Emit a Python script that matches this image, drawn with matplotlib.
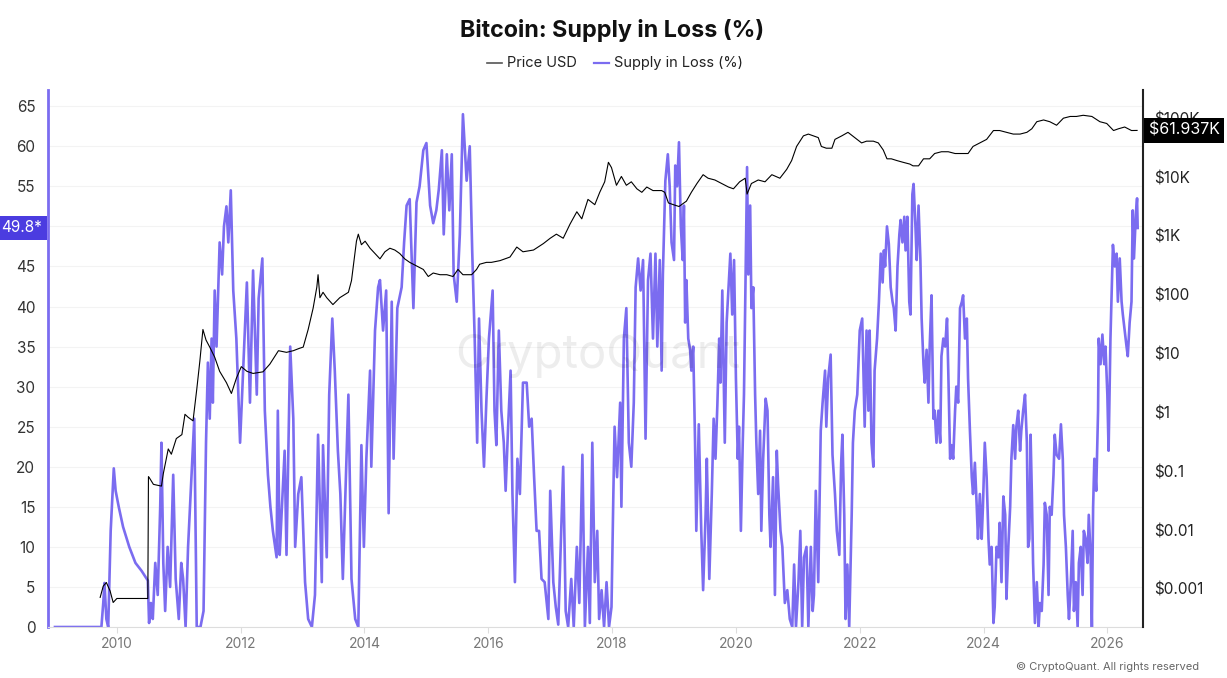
import matplotlib
matplotlib.use("Agg")
import matplotlib.pyplot as plt
from matplotlib.ticker import FixedLocator, NullLocator

plt.rcParams['font.family'] = ['Inter', 'DejaVu Sans']

# --- data (decimal years) ---
supply_year = [
    2009.0, 2009.75, 2009.78, 2009.8, 2009.83, 2009.86, 2009.9, 2009.95, 2009.98, 2010.03,
    2010.1, 2010.2, 2010.3, 2010.4, 2010.5, 2010.52, 2010.55, 2010.58, 2010.62, 2010.66,
    2010.7, 2010.72, 2010.75, 2010.78, 2010.82, 2010.86, 2010.91, 2010.95, 2011.0, 2011.04,
    2011.07, 2011.11, 2011.15, 2011.2, 2011.25, 2011.29, 2011.35, 2011.4, 2011.44, 2011.47,
    2011.5, 2011.53, 2011.55, 2011.58, 2011.61, 2011.66, 2011.7, 2011.73, 2011.77, 2011.8,
    2011.84, 2011.88, 2011.93, 2011.99, 2012.04, 2012.1, 2012.15, 2012.2, 2012.26, 2012.29,
    2012.35, 2012.39, 2012.44, 2012.48, 2012.52, 2012.58, 2012.6, 2012.63, 2012.66, 2012.71,
    2012.74, 2012.8, 2012.85, 2012.88, 2012.93, 2012.98, 2013.04, 2013.09, 2013.15, 2013.2,
    2013.25, 2013.31, 2013.33, 2013.39, 2013.43, 2013.48, 2013.52, 2013.57, 2013.61, 2013.65,
    2013.7, 2013.74, 2013.79, 2013.85, 2013.9, 2013.95, 2013.99, 2014.03, 2014.09, 2014.11,
    2014.17, 2014.22, 2014.25, 2014.3, 2014.35, 2014.39, 2014.44, 2014.47, 2014.53, 2014.6,
    2014.64, 2014.68, 2014.73, 2014.79, 2014.84, 2014.89, 2014.95, 2015.0, 2015.06, 2015.11,
    2015.16, 2015.2, 2015.25, 2015.28, 2015.33, 2015.37, 2015.41, 2015.44, 2015.49, 2015.54,
    2015.59, 2015.65, 2015.7, 2015.74, 2015.78, 2015.82, 2015.85, 2015.89, 2015.93, 2015.97,
    2016.01, 2016.07, 2016.1, 2016.13, 2016.17, 2016.21, 2016.25, 2016.28, 2016.32, 2016.36,
    2016.39, 2016.43, 2016.47, 2016.51, 2016.56, 2016.62, 2016.66, 2016.7, 2016.74, 2016.78,
    2016.82, 2016.86, 2016.91, 2016.97, 2017.0, 2017.05, 2017.09, 2017.13, 2017.17, 2017.21,
    2017.25, 2017.29, 2017.34, 2017.38, 2017.43, 2017.47, 2017.52, 2017.56, 2017.61, 2017.64,
    2017.68, 2017.72, 2017.76, 2017.79, 2017.83, 2017.87, 2017.91, 2017.95, 2017.99, 2018.02,
    2018.04, 2018.08, 2018.13, 2018.15, 2018.19, 2018.23, 2018.27, 2018.31, 2018.35, 2018.38,
    2018.42, 2018.46, 2018.5, 2018.54, 2018.58, 2018.62, 2018.66, 2018.7, 2018.73, 2018.77,
    2018.8, 2018.82, 2018.86, 2018.9, 2018.93, 2018.96, 2019.0, 2019.02, 2019.05, 2019.08,
    2019.11, 2019.14, 2019.16, 2019.18, 2019.2, 2019.23, 2019.26, 2019.28, 2019.31, 2019.34,
    2019.36, 2019.4, 2019.44, 2019.47, 2019.51, 2019.53, 2019.57, 2019.61, 2019.64, 2019.67,
    2019.7, 2019.73, 2019.75, 2019.78, 2019.82, 2019.85, 2019.88, 2019.91, 2019.94, 2019.97,
    2020.0, 2020.03, 2020.05, 2020.08, 2020.11, 2020.13, 2020.15, 2020.18, 2020.2, 2020.23,
    2020.25, 2020.28, 2020.31, 2020.33, 2020.36, 2020.39, 2020.41, 2020.44, 2020.48, 2020.51,
    2020.54, 2020.56, 2020.6, 2020.63, 2020.66, 2020.68, 2020.72, 2020.75, 2020.79, 2020.83,
    2020.87, 2020.91, 2020.94, 2020.97, 2021.01, 2021.04, 2021.07, 2021.1, 2021.14, 2021.17,
    2021.21, 2021.24, 2021.26, 2021.29, 2021.33, 2021.37, 2021.4, 2021.44, 2021.46, 2021.49,
    2021.53, 2021.56, 2021.6, 2021.63, 2021.67, 2021.7, 2021.72, 2021.75, 2021.77, 2021.8,
    2021.83, 2021.87, 2021.89, 2021.92, 2021.96, 2022.0, 2022.04, 2022.08, 2022.11, 2022.14,
    2022.16, 2022.19, 2022.22, 2022.24, 2022.28, 2022.31, 2022.34, 2022.37, 2022.39, 2022.41,
    2022.44, 2022.47, 2022.5, 2022.53, 2022.55, 2022.58, 2022.61, 2022.64, 2022.66, 2022.69,
    2022.72, 2022.74, 2022.77, 2022.8, 2022.82, 2022.85, 2022.87, 2022.9, 2022.92, 2022.95,
    2022.98, 2023.0, 2023.03, 2023.05, 2023.08, 2023.11, 2023.13, 2023.16, 2023.19, 2023.21,
    2023.24, 2023.27, 2023.3, 2023.32, 2023.35, 2023.38, 2023.41, 2023.43, 2023.46, 2023.48,
    2023.51, 2023.54, 2023.56, 2023.59, 2023.62, 2023.65, 2023.67, 2023.7, 2023.73, 2023.75,
    2023.78, 2023.81, 2023.83, 2023.86, 2023.89, 2023.91, 2023.94, 2023.97, 2023.99, 2024.02,
    2024.05, 2024.08, 2024.1, 2024.13, 2024.16, 2024.18, 2024.21, 2024.24, 2024.26, 2024.29,
    2024.32, 2024.35, 2024.37, 2024.4, 2024.43, 2024.45, 2024.48, 2024.51, 2024.53, 2024.56,
    2024.59, 2024.61, 2024.64, 2024.67, 2024.7, 2024.72, 2024.74, 2024.76, 2024.78, 2024.8,
    2024.83, 2024.86, 2024.89, 2024.91, 2024.94, 2024.97, 2024.99, 2025.02, 2025.05, 2025.07,
    2025.1, 2025.13, 2025.15, 2025.18, 2025.22, 2025.25, 2025.28, 2025.3, 2025.33, 2025.36,
    2025.38, 2025.41, 2025.44, 2025.46, 2025.49, 2025.52, 2025.54, 2025.57, 2025.6, 2025.62,
    2025.65, 2025.68, 2025.7, 2025.73, 2025.75, 2025.77, 2025.79, 2025.82, 2025.85, 2025.86,
    2025.89, 2025.92, 2025.95, 2025.97, 2026.0, 2026.02, 2026.05, 2026.08, 2026.09, 2026.12,
    2026.15, 2026.17, 2026.2, 2026.23, 2026.25, 2026.28, 2026.31, 2026.33, 2026.36, 2026.39,
    2026.41, 2026.43, 2026.46, 2026.48, 2026.49,
]
supply_pct = [
    0, 0, 3, 5.5, 1, 0, 12, 19.8, 17, 15,
    12.5, 10, 8, 7, 5.8, 0.5, 3, 1, 8, 4,
    15, 23, 8, 2, 10, 5, 19, 6, 1, 8,
    6, 0, 10, 18, 26, 0, 0, 2, 23, 33,
    26, 36, 28, 42, 35, 48, 44, 50, 52.5, 48,
    54.5, 42, 36, 23, 32, 43, 28, 44.5, 29, 41,
    46, 27, 19, 15, 12, 8.7, 27, 9, 14, 22,
    9, 35, 26, 10, 16.6, 18.7, 5.6, 1, 0, 4,
    24, 5.6, 22.7, 8.7, 29, 38.5, 32, 22, 16.6, 6,
    18.7, 29, 6, 1, 0, 22.7, 10, 21, 32, 20,
    37, 42.4, 43.3, 37, 42, 14.2, 40.6, 21, 39.8, 42.4,
    48, 52.6, 53.4, 39.8, 53, 55, 59.5, 60.4, 52.6, 50.4,
    52, 54.6, 59.5, 49, 59, 52, 59, 44, 40.6, 49,
    64, 55.7, 60, 46.9, 36, 23, 38.5, 27, 20, 28.5,
    36, 42, 27, 22.7, 37, 27, 23, 17, 25, 32,
    16.6, 5.6, 21, 16.6, 30.5, 30.5, 25, 26, 18.7, 12,
    12, 6, 5.6, 1, 17, 5.6, 2.5, 0.3, 10, 20,
    2, 0, 6, 0, 10, 3, 21.5, 0, 10, 0.5,
    23, 5.6, 12, 1, 4.6, 0, 5.6, 0, 2.5, 16.6,
    25, 18.7, 28, 15, 36, 39.8, 23, 20, 28, 42.4,
    46, 42, 45.8, 23.5, 43.3, 46.6, 36, 46.6, 35, 45.8,
    32, 44, 55.7, 59, 55, 48, 45.8, 57.6, 55, 60.5,
    50, 45.8, 52.6, 38, 43.3, 36, 34.6, 32, 35, 23,
    12, 25.3, 12, 4.6, 14, 21, 6, 16.6, 26, 21,
    27.7, 36, 30.5, 42, 23, 38, 42.4, 46.6, 39, 45.8,
    31, 21, 25, 12, 23, 29, 40.6, 57.4, 44, 52.6,
    39.8, 42.4, 29, 23, 16.6, 24.5, 12, 21, 28.5, 27,
    14, 10, 18.7, 4, 22, 18, 12, 10, 3, 4.6,
    1, 0, 7.8, 0, 5.6, 12, 0, 8.7, 10, 0,
    10, 2, 4, 17, 5.6, 24.5, 28, 32, 25, 31,
    34, 21.5, 16.6, 12, 9, 20.5, 24, 14, 1, 7.8,
    0, 14, 23, 27, 29, 37, 38.5, 25, 37, 27,
    37, 23, 20, 32, 36, 40.6, 46.6, 43, 47, 45,
    50, 47.8, 42.4, 40.6, 39.8, 37, 45, 49, 50.8, 48,
    51.2, 47, 51.2, 40.6, 39, 54, 55.3, 50, 45.8, 52.6,
    45.8, 38.5, 32.8, 30.5, 34.6, 28, 35, 41.4, 26, 27,
    23, 27, 23, 33.8, 36, 35, 38.5, 32, 21, 22.7,
    21, 27, 30, 28, 39.8, 40.6, 41.4, 36, 38.5, 31,
    24.5, 18.7, 16.6, 20.5, 15, 11, 16.6, 11, 15, 23,
    18.7, 11, 7.8, 10, 0.5, 2.5, 10, 8.7, 13, 5.6,
    16.3, 14, 3.5, 10, 15, 21, 25.2, 21, 25, 27,
    22, 24.5, 27, 29, 23, 10, 11, 24, 16.8, 8,
    0.5, 5.6, 0, 3, 2, 7.8, 15.5, 14, 4, 15,
    14, 19, 24, 21.5, 21, 25.3, 21, 14, 10, 4,
    1, 5.6, 12, 2, 5.6, 0, 8, 10, 4, 12,
    11, 8, 14, 8.7, 0, 15, 21, 17, 27, 36,
    32.8, 36.5, 32.8, 35, 29, 22, 36, 45, 47.7, 45,
    46.6, 40.6, 46, 40.6, 39, 37, 35, 33.8, 38, 40.6,
    52, 46, 51.5, 53.5, 49.8,
]

price_year = [
    2009.73, 2009.78, 2009.83, 2009.89, 2009.94, 2010.0, 2010.5, 2010.51, 2010.52, 2010.59,
    2010.72, 2010.75, 2010.83, 2010.88, 2010.96, 2011.05, 2011.1, 2011.15, 2011.23, 2011.29,
    2011.34, 2011.39, 2011.44, 2011.5, 2011.58, 2011.66, 2011.77, 2011.85, 2011.93, 2012.01,
    2012.1, 2012.2, 2012.36, 2012.47, 2012.61, 2012.74, 2012.85, 2012.95, 2013.01, 2013.09,
    2013.17, 2013.23, 2013.25, 2013.28, 2013.33, 2013.39, 2013.49, 2013.6, 2013.74, 2013.79,
    2013.87, 2013.9, 2013.95, 2014.01, 2014.09, 2014.17, 2014.25, 2014.33, 2014.41, 2014.49,
    2014.57, 2014.65, 2014.73, 2014.84, 2014.95, 2015.03, 2015.11, 2015.22, 2015.33, 2015.43,
    2015.51, 2015.59, 2015.73, 2015.81, 2015.86, 2015.97, 2016.05, 2016.19, 2016.35, 2016.46,
    2016.56, 2016.73, 2016.89, 2017.0, 2017.1, 2017.21, 2017.32, 2017.43, 2017.51, 2017.61,
    2017.72, 2017.8, 2017.88, 2017.94, 2017.99, 2018.07, 2018.15, 2018.23, 2018.31, 2018.4,
    2018.48, 2018.56, 2018.66, 2018.8, 2018.85, 2018.91, 2018.99, 2019.08, 2019.2, 2019.28,
    2019.37, 2019.47, 2019.55, 2019.66, 2019.77, 2019.88, 2019.96, 2020.06, 2020.15, 2020.18,
    2020.25, 2020.36, 2020.47, 2020.58, 2020.71, 2020.82, 2020.9, 2020.98, 2021.09, 2021.17,
    2021.25, 2021.33, 2021.38, 2021.46, 2021.55, 2021.6, 2021.71, 2021.81, 2021.92, 2022.03,
    2022.11, 2022.22, 2022.3, 2022.38, 2022.44, 2022.51, 2022.6, 2022.7, 2022.81, 2022.86,
    2022.95, 2023.03, 2023.13, 2023.21, 2023.32, 2023.43, 2023.54, 2023.65, 2023.75, 2023.83,
    2023.94, 2024.05, 2024.16, 2024.26, 2024.37, 2024.48, 2024.59, 2024.7, 2024.78, 2024.86,
    2024.97, 2025.07, 2025.18, 2025.29, 2025.4, 2025.5, 2025.61, 2025.75, 2025.88, 2025.99,
    2026.1, 2026.18, 2026.28, 2026.39, 2026.48,
]
price_usd = [
    0.00072, 0.00112, 0.00129, 0.00093, 0.00059, 0.00069, 0.00069, 0.081, 0.079, 0.060,
    0.056, 0.091, 0.24, 0.195, 0.36, 0.42, 0.93, 0.83, 0.72, 2.45,
    7.4, 25.7, 17, 12.9, 8.7, 5.0, 3.2, 2.1, 3.8, 6.0,
    5.0, 4.6, 4.9, 6.6, 11.2, 10.5, 11.2, 12.3, 12.9, 25.7,
    59, 135, 219, 89, 110, 89, 68, 89, 110, 174,
    813, 1070, 708, 813, 617, 501, 407, 537, 617, 575,
    501, 407, 355, 309, 269, 204, 234, 219, 219, 204,
    269, 219, 219, 269, 330, 355, 355, 380, 437, 646,
    537, 575, 741, 912, 1070, 912, 1585, 2570, 1950, 4170,
    3390, 5500, 8300, 17800, 14450, 7240, 10230, 7240, 8300, 6310,
    5500, 6760, 5890, 5890, 5500, 3630, 3390, 3160, 3890, 5500,
    7760, 10960, 9550, 8910, 7760, 6760, 6310, 8300, 9550, 5130,
    7760, 8910, 8300, 10960, 9550, 13490, 19050, 33100, 50100, 53700,
    50100, 46800, 33100, 30900, 30900, 43650, 50100, 57500, 46800, 38000,
    40700, 40700, 38000, 28800, 20400, 20400, 19050, 17800, 16600, 15500,
    15500, 20400, 20400, 25100, 26900, 26900, 25100, 25100, 25100, 33100,
    38000, 43650, 61700, 61700, 57500, 53700, 53700, 57500, 66100, 87100,
    93300, 87100, 75900, 100000, 107000, 107000, 112000, 107000, 87100, 81300,
    61700, 66100, 70800, 61700, 61937,
]

y_ticks = [0, 5, 10, 15, 20, 25, 30, 35, 40, 45, 50, 55, 60, 65]
x_ticks = [2010, 2012, 2014, 2016, 2018, 2020, 2022, 2024, 2026]
price_ticks = [0.001, 0.01, 0.1, 1, 10, 100, 1e3, 1e4, 1e5]
price_labels = ['$0.001', '$0.01', '$0.1', '$1', '$10', '$100', '$1K', '$10K', '$100K']

purple = '#7b6cf0'

fig = plt.figure(figsize=(12.27, 6.78), dpi=100)
ax = fig.add_axes([0.039, 0.0752, 0.8925, 0.7918])
ax2 = ax.twinx()

ax.plot(supply_year, supply_pct, color=purple, lw=1.9, zorder=2)
ax2.plot(price_year, price_usd, color='black', lw=0.8, zorder=3)

ax.set_xlim(2008.885, 2026.575)
ax.set_ylim(0, 67.0)
ax2.set_yscale('log')
ax2.set_ylim(10 ** -3.646, 10 ** 5.476)

# the "50" label sits under the current-value badge in the reference
ax.set_yticks(y_ticks)
ax.set_yticklabels(['' if v == 50 else str(v) for v in y_ticks], fontsize=11, color='#333333')
ax.set_xticks(x_ticks)
ax.set_xticklabels([str(v) for v in x_ticks], fontsize=10, color='#777777')
ax.tick_params(axis='y', length=0, pad=9)
ax.tick_params(axis='x', length=4, color='#dddddd', pad=3)
ax.grid(axis='y', color='#f3f3f3', lw=0.8)
ax.set_axisbelow(True)

ax2.yaxis.set_major_locator(FixedLocator(price_ticks))
ax2.yaxis.set_minor_locator(NullLocator())
ax2.set_yticklabels(price_labels, fontsize=11, color='#222222')
ax2.tick_params(axis='y', length=0, pad=8)

for a in (ax, ax2):
    a.spines['top'].set_visible(False)
ax2.spines['left'].set_visible(False)
ax2.spines['bottom'].set_visible(False)
ax.spines['right'].set_visible(False)
ax.spines['left'].set_color(purple)
ax.spines['left'].set_linewidth(2)
ax.spines['bottom'].set_color('#dddddd')
ax2.spines['right'].set_color('#222222')
ax2.spines['right'].set_linewidth(1.5)

# value badges
ax.annotate('49.8*', xy=(0, supply_pct[-1]), xycoords=('axes fraction', 'data'),
            xytext=(-4, 0), textcoords='offset points', ha='right', va='center',
            fontsize=11, color='white',
            bbox=dict(boxstyle='square,pad=0.3', fc='#4b3ce0', ec='none'))
ax2.annotate('$61.937K', xy=(1, price_usd[-1]), xycoords=('axes fraction', 'data'),
             xytext=(4, 0), textcoords='offset points', ha='left', va='center',
             fontsize=11.5, color='white', zorder=10,
             bbox=dict(boxstyle='square,pad=0.3', fc='black', ec='none'))

fig.text(0.499, 0.955, 'Bitcoin: Supply in Loss (%)', ha='center', va='center',
         fontsize=16.8, fontweight='bold', color='#111111')

# legend
fig.lines.append(plt.Line2D([0.397, 0.409], [0.907, 0.907], transform=fig.transFigure,
                            color='#555555', lw=1.2))
fig.text(0.413, 0.907, 'Price USD', ha='left', va='center', fontsize=10.5, color='#222222')
fig.lines.append(plt.Line2D([0.484, 0.496], [0.907, 0.907], transform=fig.transFigure,
                            color=purple, lw=1.6))
fig.text(0.5, 0.907, 'Supply in Loss (%)', ha='left', va='center', fontsize=10.5, color='#222222')

# watermark and footer
fig.text(0.487, 0.475, 'CryptoQuant', ha='center', va='center', fontsize=34,
         color='#000000', alpha=0.07)
fig.text(0.977, 0.016, '© CryptoQuant. All rights reserved', ha='right', va='center',
         fontsize=8, color='#666666')

fig.savefig('out.png', dpi=100)
